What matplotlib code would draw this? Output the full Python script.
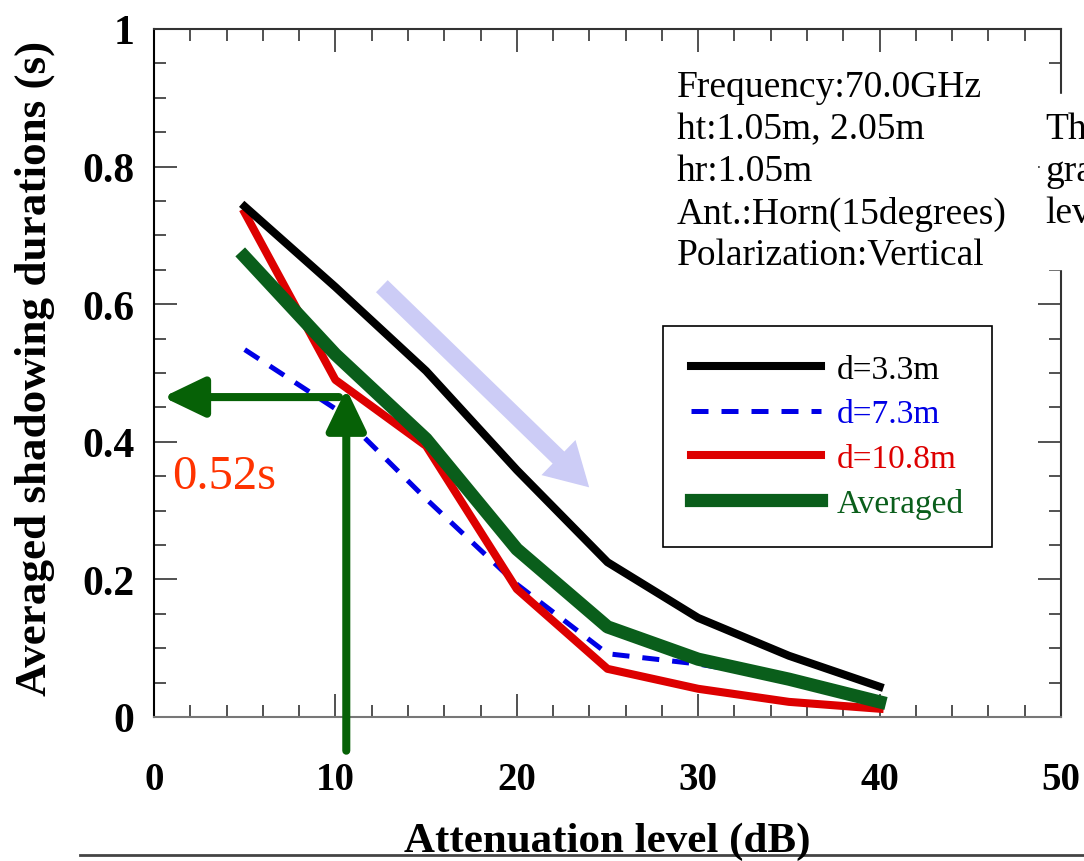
import matplotlib
matplotlib.use('Agg')
import matplotlib.pyplot as plt
from matplotlib.lines import Line2D
from matplotlib.patches import Rectangle
from matplotlib.ticker import MultipleLocator

plt.rcParams['font.family'] = ['Liberation Serif', 'DejaVu Serif']

# attenuation level (dB)
atten = [5, 10, 15, 20, 25, 30, 35, 40]
# averaged shadowing durations (s)
d33 = [0.742, 0.625, 0.503, 0.359, 0.225, 0.144, 0.089, 0.044]
d73 = [0.534, 0.448, 0.317, 0.193, 0.092, 0.077, 0.055, 0.026]
d108 = [0.733, 0.490, 0.394, 0.186, 0.070, 0.041, 0.022, 0.012]
avg = [0.669, 0.527, 0.404, 0.244, 0.131, 0.084, 0.055, 0.022]

labels = ['d=3.3m', 'd=7.3m', 'd=10.8m', 'Averaged']
xticks = [0, 10, 20, 30, 40, 50]
yticks = [0, 0.2, 0.4, 0.6, 0.8, 1]
ytick_labels = ['0', '0.2', '0.4', '0.6', '0.8', '1']
read_level = 10.6
read_value = 0.465
read_text = '0.52s'

conditions = ['Frequency:70.0GHz', 'ht:1.05m, 2.05m', 'hr:1.05m',
              'Ant.:Horn(15degrees)', 'Polarization:Vertical']
side_text = ['Th', 'gra', 'lev']

W, H = 1084, 862
fig = plt.figure(figsize=(W / 100, H / 100), dpi=100)
ax = fig.add_axes([154 / W, 1 - 718 / H, (1061 - 154) / W, (718 - 30) / H])

ax.plot(atten, d73, color='#0000e6', lw=3.6, dashes=(3.4, 2.6), label=labels[1], zorder=2)
ax.plot(atten, d108, color='#dd0000', lw=5.8, label=labels[2], zorder=3)
ax.plot(atten, d33, color='black', lw=5.8, label=labels[0], zorder=3)
ax.plot(atten, avg, color='#0a5e1b', lw=9.5, label=labels[3], zorder=4)

ax.set_xlim(0, 50)
ax.set_ylim(0, 1)
ax.set_xticks(xticks)
ax.set_yticks(yticks, ytick_labels)
ax.xaxis.set_minor_locator(MultipleLocator(2))
ax.yaxis.set_minor_locator(MultipleLocator(0.05))
ax.tick_params(which='both', direction='in', top=True, right=True, width=1.2, color='#333333')
ax.tick_params(which='major', length=16.5)
ax.tick_params(which='minor', length=8.5)
ax.tick_params(axis='x', which='major', pad=32, labelsize=28)
ax.tick_params(axis='y', which='major', pad=14, labelsize=30)
for lab in ax.get_xticklabels() + ax.get_yticklabels():
    lab.set_fontweight('bold')
for s in ax.spines.values():
    s.set_linewidth(1.5)
ax.spines['bottom'].set_color('#777777')
ax.spines['right'].set_color('#333333')
ax.spines['top'].set_color('#333333')

# light blue trend arrow
ax.annotate('', xy=(24.1, 0.331), xytext=(12.45, 0.629),
            arrowprops=dict(arrowstyle='simple,head_length=1.4,head_width=1.6,tail_width=0.55',
                            color='#ccccf6', lw=0, mutation_scale=22))

# green reading arrows
ax.annotate('', xy=(read_level, read_value + 0.012), xytext=(read_level, -0.049),
            arrowprops=dict(arrowstyle='-|>,head_length=25,head_width=12', color='#066106',
                            lw=5.8, mutation_scale=1, shrinkA=0, shrinkB=0),
            annotation_clip=False, zorder=6)
ax.annotate('', xy=(0.5, read_value), xytext=(10.2, read_value),
            arrowprops=dict(arrowstyle='-|>,head_length=25,head_width=12', color='#066106',
                            lw=5.8, mutation_scale=1, shrinkA=0, shrinkB=0),
            annotation_clip=False, zorder=6)
ax.text(1.0, 0.35, read_text, color='#ff3300', fontsize=35, va='center', ha='left')

leg = ax.legend(handles=[ax.lines[2], ax.lines[0], ax.lines[1], ax.lines[3]],
                loc='upper left', bbox_to_anchor=(663 / W, 1 - 327 / H),
                bbox_transform=fig.transFigure, fontsize=24, frameon=True, fancybox=False,
                edgecolor='black', framealpha=1, handlelength=3.9, handletextpad=0.45,
                labelspacing=0.42, borderpad=0.85, borderaxespad=0, labelcolor='linecolor')
leg.get_frame().set_linewidth(1.2)

for i, line in enumerate(conditions):
    fig.text(677 / W, 1 - (88 + 42 * i) / H, line, fontsize=27, va='center', ha='left')

# neighbouring text cut by the figure edge
fig.patches.append(Rectangle((1040 / W, 1 - 270 / H), 44 / W, 175 / H,
                             transform=fig.transFigure, color='white', zorder=2))
for i, line in enumerate(side_text):
    fig.text(1045 / W, 1 - (130 + 42 * i) / H, line, fontsize=27, va='center', ha='left', zorder=3)

fig.text(35 / W, 1 - 368 / H, 'Averaged shadowing durations (s)', rotation=90,
         fontsize=32.5, fontweight='bold', va='center', ha='center')
fig.text(607 / W, 1 - 842 / H, 'Attenuation level (dB)', fontsize=31,
         fontweight='bold', va='center', ha='center')
fig.lines.append(Line2D([80 / W, 1], [1 - 856 / H, 1 - 856 / H], transform=fig.transFigure,
                        color='#444444', lw=2))

fig.savefig('out.png', dpi=100)
